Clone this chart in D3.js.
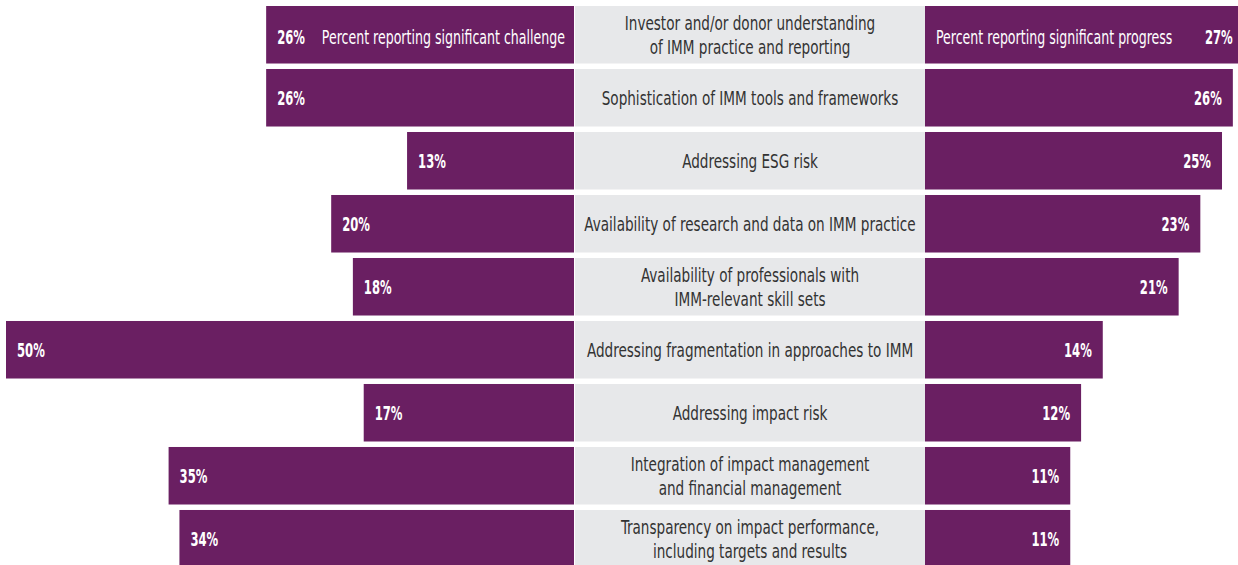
<!DOCTYPE html>
<html>
<head>
<meta charset="utf-8">
<script src="https://cdn.jsdelivr.net/npm/d3@7"></script>
<style>
  body { margin: 0; background: #fff; }
  svg text { font-family: "Liberation Sans Narrow", "DejaVu Sans Condensed", "Roboto", sans-serif; }
</style>
</head>
<body>
<div id="chart"></div>
<script>
// data
const categories = [
    ["Investor and/or donor understanding", "of IMM practice and reporting"],
    ["Sophistication of IMM tools and frameworks"],
    ["Addressing ESG risk"],
    ["Availability of research and data on IMM practice"],
    ["Availability of professionals with", "IMM-relevant skill sets"],
    ["Addressing fragmentation in approaches to IMM"],
    ["Addressing impact risk"],
    ["Integration of impact management", "and financial management"],
    ["Transparency on impact performance,", "including targets and results"]
];
const challenge = [26, 26, 13, 20, 18, 50, 17, 35, 34];
const progress  = [27, 26, 25, 23, 21, 14, 12, 11, 11];
const challengeTitle = "Percent reporting significant challenge";
const progressTitle = "Percent reporting significant progress";

const width = 1238, height = 565;
const purple = "#6a1f62", grey = "#e7e8ea";
const midLeft = 575, midRight = 925;

const svg = d3.select("#chart")
    .append("svg")
        .attr("width", width)
        .attr("height", height);

const idx = d3.range(categories.length);

// rows
const y = d3.scaleBand()
    .domain(idx)
    .range([6, 567.5])
    .paddingInner(0.087)
    .paddingOuter(0);

// bar length (same scale both sides)
const x = d3.scaleLinear()
    .domain([-2.4, 50])
    .range([0, 568]);

const rows = svg.selectAll("g.row")
    .data(idx)
    .join("g")
        .attr("class", "row")
        .attr("transform", i => `translate(0,${y(i)})`);

// centre label boxes
rows.append("rect")
    .attr("x", midLeft)
    .attr("width", midRight - midLeft)
    .attr("height", y.bandwidth())
    .attr("fill", grey);

// challenge bars (grow to the left)
rows.append("rect")
    .attr("x", i => midLeft - 1 - x(challenge[i]))
    .attr("width", i => x(challenge[i]))
    .attr("height", y.bandwidth())
    .attr("fill", purple);

// progress bars (grow to the right)
rows.append("rect")
    .attr("x", midRight)
    .attr("width", i => x(progress[i]))
    .attr("height", y.bandwidth())
    .attr("fill", purple);

// helper for horizontally squeezed (condensed) text
function squeezed(sel, px, py, k) {
    return sel.attr("transform", `translate(${px},${py}) scale(${k},1)`);
}

const mid = y.bandwidth() / 2;

// centre labels
rows.each(function(i) {
    const lines = categories[i];
    const g = d3.select(this);
    const lh = 24;
    const top = mid - (lines.length - 1) * lh / 2 + 7;
    lines.forEach((t, k) => {
        squeezed(g.append("text"), (midLeft + midRight) / 2, top + k * lh, 0.755)
            .attr("text-anchor", "middle")
            .attr("font-size", 20)
            .attr("fill", "#333")
            .text(t);
    });
});

// challenge value labels
rows.append("text")
    .each(function(i) {
        squeezed(d3.select(this), midLeft - 1 - x(challenge[i]) + 11, mid + (i === 0 ? 9 : 7), 0.68);
    })
    .attr("font-size", 19)
    .attr("font-weight", "bold")
    .attr("fill", "#fff")
    .text(i => challenge[i] + "%");

// progress value labels
rows.append("text")
    .each(function(i) {
        squeezed(d3.select(this), midRight + x(progress[i]) - 11, mid + (i === 0 ? 9 : 7), 0.68);
    })
    .attr("text-anchor", "end")
    .attr("font-size", 19)
    .attr("font-weight", "bold")
    .attr("fill", "#fff")
    .text(i => progress[i] + "%");

// series titles inside first row
squeezed(svg.append("text"), midLeft - 10, y(0) + mid + 9, 0.7)
    .attr("text-anchor", "end")
    .attr("font-size", 20)
    .attr("fill", "#fff")
    .text(challengeTitle);

squeezed(svg.append("text"), midRight + 11, y(0) + mid + 9, 0.7)
    .attr("font-size", 20)
    .attr("fill", "#fff")
    .text(progressTitle);
</script>
</body>
</html>
